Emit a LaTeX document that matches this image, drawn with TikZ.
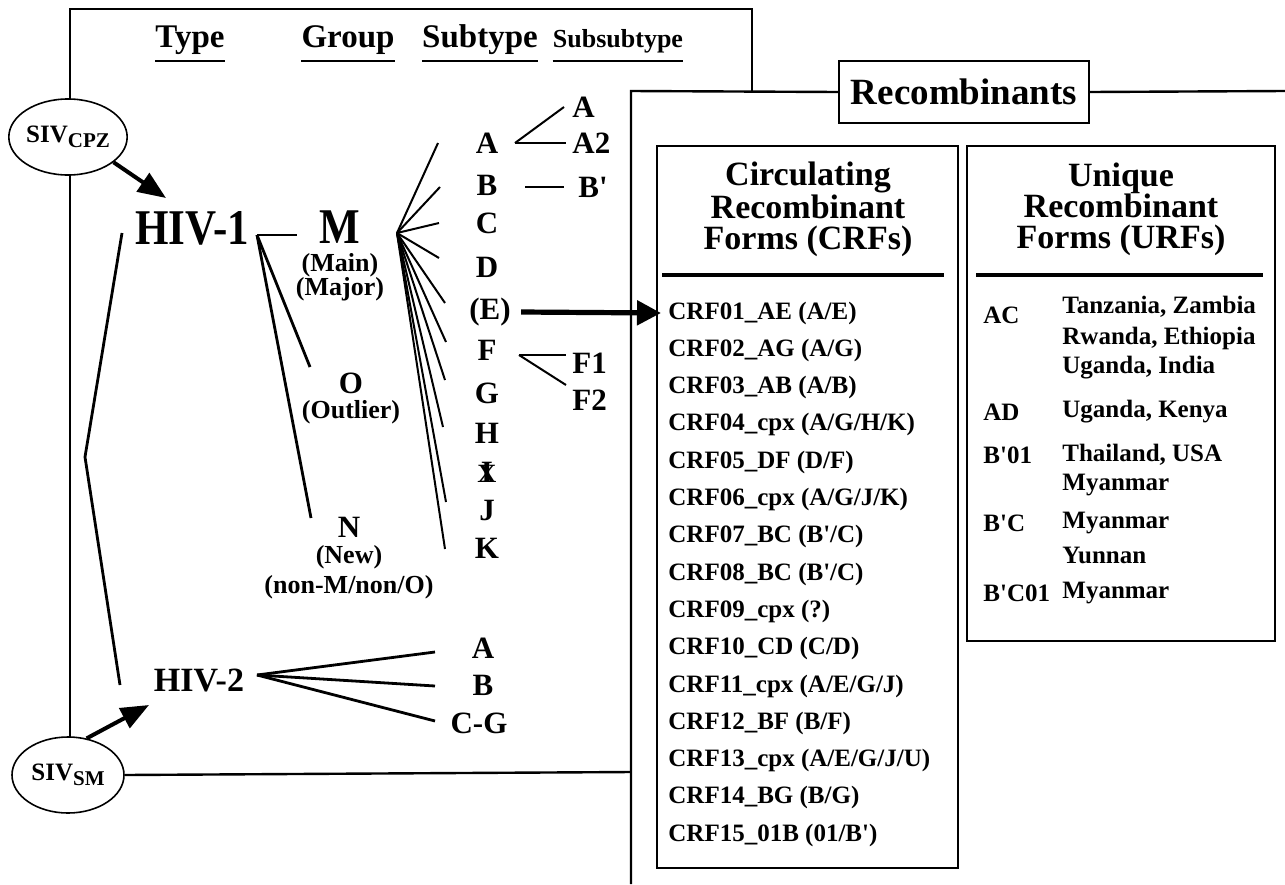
\documentclass[tikz,border=0pt]{standalone}
\usepackage{fontspec}
\setmainfont{Liberation Serif}
\usetikzlibrary{arrows.meta,shapes.geometric}

\newcommand{\figFont}[2]{\fontsize{#1}{#2}\selectfont\bfseries}
\newcommand{\quoteMark}{\textquotesingle}
\newcommand{\crossI}{\ooalign{\hfil I\hfil\cr\hfil\scalebox{0.85}{X}\hfil\cr}}

\begin{document}
\begin{tikzpicture}[x=0.5pt, y=-0.5pt,
    boxLine/.style={line width=1.2pt},
    fanLine/.style={line width=1pt},
    treeLine/.style={line width=1.4pt},
    underLine/.style={line width=1.2pt},
    headRule/.style={line width=2pt},
    sivArrow/.style={line width=2pt, -{Triangle[length=14pt,width=11pt]}},
    bigArrow/.style={line width=2.6pt, -{Triangle[length=12pt,width=12pt]}},
    hdr/.style={inner sep=0pt, anchor=base, font=\figFont{16.5}{19}},
    subHdr/.style={inner sep=0pt, anchor=base, font=\figFont{13}{15}},
    bigTxt/.style={inner sep=0pt, font=\figFont{25}{28}\addfontfeature{FakeStretch=0.86}},
    hivTxt/.style={inner sep=0pt, font=\figFont{17}{20}},
    midTxt/.style={inner sep=0pt, font=\figFont{15.5}{18}},
    smallTxt/.style={inner sep=0pt, font=\figFont{13}{15}},
    siv/.style={ellipse, draw, fill=white, line width=0.8pt, minimum width=56pt,
        minimum height=38pt, inner sep=0pt, font=\figFont{12.5}{14}},
    recombBox/.style={draw, fill=white, line width=1.2pt, minimum width=125pt,
        minimum height=31pt, inner sep=0pt, font=\figFont{18.5}{21}},
    hdBox/.style={align=center, inner sep=0pt, font=\figFont{17}{15.5}},
    crfItem/.style={anchor=west, inner sep=0pt, font=\figFont{12.5}{14}}]

    \useasboundingbox (0,0) rectangle (1285,884);

    % Classification panel
    \draw[boxLine] (70,772) -- (70,9) -- (752,9) -- (752,91);

    % Column headers
    \node[hdr] (hdType) at (190,47) {Type};
    \node[hdr] (hdGroup) at (348,47) {Group};
    \node[hdr] (hdSub) at (480,47) {Subtype};
    \node[subHdr] (hdSubSub) at (618,47) {Subsubtype};
    \coordinate (uline) at (0,61);
    \foreach \h in {hdType,hdGroup,hdSub,hdSubSub}
        \draw[underLine] (\h.west |- uline) -- (\h.east |- uline);

    % Origins
    \node[siv] (SIVcpz) at (68,137) {SIV\raisebox{-2.5pt}{\figFont{10.5}{12}CPZ}};
    \node[siv] (SIVsm) at (68,775) {SIV\raisebox{-2.5pt}{\figFont{10.5}{12}SM}};
    \draw[boxLine] (SIVsm.east) -- (631,772);

    % Types and groups
    \node[bigTxt] (hivOne) at (192,228) {HIV-1};
    \node[hivTxt] (hivTwo) at (199,680) {HIV-2};
    \node[bigTxt] (grpM) at (340,227) {M};
    \node[smallTxt] (grpMain) at (340,265) {(Main)};
    \node[smallTxt] (grpMajor) at (340,289) {(Major)};
    \node[midTxt] (grpO) at (351,383) {O};
    \node[smallTxt] (grpOut) at (351,412) {(Outlier)};
    \node[midTxt] (grpN) at (349,527) {N};
    \node[smallTxt] (grpNew) at (349,557) {(New)};
    \node[smallTxt] (grpNon) at (349,587) {(non-M/non/O)};

    % Arrows from SIV
    \coordinate (cpzTip) at (166,198);
    \coordinate (smTip) at (149,705);
    \draw[sivArrow] (SIVcpz.-29) -- (cpzTip);
    \draw[sivArrow] (SIVsm.63) -- (smTip);

    % Link between HIV-1 and HIV-2
    \coordinate (lTop) at (122,233);
    \coordinate (lKink) at (85,457);
    \coordinate (lBot) at (120,685);
    \draw[treeLine] (lTop) -- (lKink) -- (lBot);

    % HIV-1 groups
    \coordinate (oneHub) at (257,235);
    \coordinate (toM) at (297,235);
    \coordinate (toO) at (310,367);
    \coordinate (toN) at (311,518);
    \draw[treeLine] (oneHub) -- (toM);
    \draw[treeLine] (oneHub) -- (toO);
    \draw[treeLine] (oneHub) -- (toN);

    % Subtypes of group M
    \foreach \n/\t/\x/\y in {A/A/487/143, B/B/487/185, C/C/487/223, D/D/487/267,
            E/(E)/490/312, F/F/487/350, G/G/487/393, H/H/487/433, J/J/487/510, K/K/487/548}
        \node[midTxt] (sub\n) at (\x,\y) {\t};
    \node[midTxt] (subI) at (487,472) {\crossI};

    \coordinate (mHub) at (397,233);
    \foreach \n/\x/\y in {A/438/143, B/440/187, C/439/223, D/439/258, E/445/303,
            F/446/342, G/445/380, H/443/427, J/446/502, K/445/549} {
        \coordinate (fan\n) at (\x,\y);
        \draw[fanLine] (mHub) -- (fan\n);
    }

    % Subsubtypes
    \node[midTxt, anchor=west] (ssA) at (572,107) {A};
    \node[midTxt, anchor=west] (ssAtwo) at (572,143) {A2};
    \node[midTxt, anchor=west] (ssBp) at (578,187) {B\quoteMark};
    \node[midTxt, anchor=west] (ssFone) at (572,363) {F1};
    \node[midTxt, anchor=west] (ssFtwo) at (572,400) {F2};
    \coordinate (aJoin) at (515,143);
    \coordinate (bJoin) at (525,187);
    \coordinate (fJoin) at (519,355);
    \coordinate (fUp) at (566,355);
    \coordinate (fDown) at (566,385);
    \draw[fanLine] (aJoin) -- ([xshift=-4pt]ssA.west);
    \draw[fanLine] (aJoin) -- ([xshift=-3pt]ssAtwo.west);
    \draw[fanLine] (bJoin) -- ([xshift=-7pt]ssBp.west);
    \draw[fanLine] (fJoin) -- (fUp);
    \draw[fanLine] (fJoin) -- (fDown);

    % HIV-2 subtypes
    \node[midTxt] (twoA) at (483,648) {A};
    \node[midTxt] (twoB) at (483,685) {B};
    \node[midTxt] (twoCG) at (479,723) {C-G};
    \coordinate (twoHub) at (257,675);
    \foreach \n/\y in {A/652, B/686, CG/721} {
        \coordinate (end\n) at (435,\y);
        \draw[treeLine] (twoHub) -- (end\n);
    }

    % Recombinants panel
    \node[recombBox] (recomb) at (964,92) {Recombinants};
    \draw[boxLine] (631,884) -- (631,91) -- (recomb.west);
    \draw[boxLine] (recomb.east) -- (1285,91);

    \draw[boxLine] (657,146) rectangle (958,868);
    \draw[boxLine] (967,146) rectangle (1275,641);
    \node[hdBox] (crfHead) at (808,209) {Circulating\\Recombinant\\Forms (CRFs)};
    \node[hdBox] (urfHead) at (1121,209) {Unique\\Recombinant\\Forms (URFs)};
    \draw[headRule] (662,275) -- (944,275);
    \draw[headRule] (976,275) -- (1263,275);

    % CRF list
    \foreach \t [count=\i] in {CRF01\_AE (A/E), CRF02\_AG (A/G), CRF03\_AB (A/B),
            CRF04\_cpx (A/G/H/K), CRF05\_DF (D/F), CRF06\_cpx (A/G/J/K),
            CRF07\_BC (B\quoteMark/C), CRF08\_BC (B\quoteMark/C), CRF09\_cpx (?),
            CRF10\_CD (C/D), CRF11\_cpx (A/E/G/J), CRF12\_BF (B/F),
            CRF13\_cpx (A/E/G/J/U), CRF14\_BG (B/G), CRF15\_01B (01/B\quoteMark)}
        \node[crfItem] (crf\i) at (668,{313+37.3*(\i-1)}) {\t};

    % URF list
    \foreach \t/\y [count=\i] in {AC/315, AD/412, B\quoteMark01/455,
            B\quoteMark{}C/523, B\quoteMark{}C01/593}
        \node[crfItem] (urfLab\i) at (983,\y) {\t};
    \foreach \t/\y [count=\i] in {{Tanzania, Zambia}/307, {Rwanda, Ethiopia}/338,
            {Uganda, India}/368, {Uganda, Kenya}/412, {Thailand, USA}/455,
            Myanmar/485, Myanmar/523, Yunnan/555, Myanmar/593}
        \node[crfItem] (urfPlace\i) at (1062,\y) {\t};

    % Subtype E leads to CRF01
    \draw[bigArrow] ([xshift=5pt]subE.east) -- ([xshift=-3.5pt]crf1.west);

\end{tikzpicture}
\end{document}
